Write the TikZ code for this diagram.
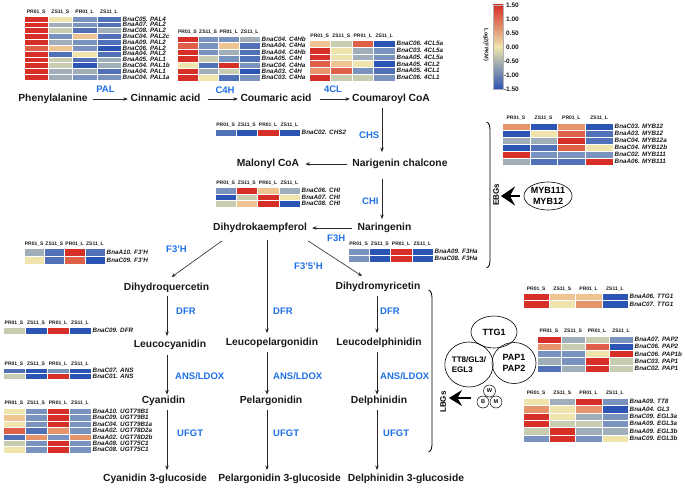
\documentclass[tikz,border=0pt]{standalone}
\usepackage{fontspec}
\setmainfont{Liberation Sans}
\usetikzlibrary{arrows.meta,shapes.geometric,calc}
\definecolor{hmR}{RGB}{214,47,39}
\definecolor{hmr}{RGB}{222,96,72}
\definecolor{hms}{RGB}{230,148,108}
\definecolor{hmo}{RGB}{238,196,146}
\definecolor{hmy}{RGB}{238,228,172}
\definecolor{hmg}{RGB}{200,204,176}
\definecolor{hmn}{RGB}{160,174,186}
\definecolor{hmb}{RGB}{122,147,190}
\definecolor{hmm}{RGB}{80,113,184}
\definecolor{hmB}{RGB}{44,84,180}
\definecolor{enzblue}{RGB}{30,112,228}
\definecolor{txt}{RGB}{25,25,25}
\newcommand\hmap[7]{%
  \foreach \hA/\hB/\hC/\hD/\hL [count=\hi from 0] in {#7}{
    \path[fill=hm\hA,draw=white,line width=0.3pt] ({#2},{#3+\hi*#5}) rectangle ++(#4,#5);
    \path[fill=hm\hB,draw=white,line width=0.3pt] ({#2+#4},{#3+\hi*#5}) rectangle ++(#4,#5);
    \path[fill=hm\hC,draw=white,line width=0.3pt] ({#2+2*#4},{#3+\hi*#5}) rectangle ++(#4,#5);
    \path[fill=hm\hD,draw=white,line width=0.3pt] ({#2+3*#4},{#3+\hi*#5}) rectangle ++(#4,#5);
    \node[hmlab] (#1-\hi) at ({#2+4*#4+1.5},{#3+(\hi+0.5)*#5}) {\hL};
  }
  \foreach \hT [count=\hj from 0] in {PR01\_S,ZS11\_S,PR01\_L,ZS11\_L}
    \node[hmhead] (#1-h\hj) at ({#2+(\hj+0.5)*#4},{#3-#6}) {\hT};
}
\begin{document}
\begin{tikzpicture}[x=1pt,y=-1pt,
  cmp/.style={font=\fontsize{10.3}{12}\selectfont\bfseries,text=txt,inner sep=0pt,text height=7.5pt,text depth=2pt},
  enz/.style={font=\fontsize{9.5}{11}\selectfont\bfseries,text=enzblue,inner sep=0pt},
  hmlab/.style={font=\fontsize{6.3}{6.5}\selectfont\bfseries\itshape,anchor=west,inner sep=0pt,text=txt},
  hmhead/.style={font=\fontsize{5}{5.5}\selectfont\bfseries,inner sep=0pt,text=txt},
  arr/.style={-{Stealth[length=4.5pt,width=3.5pt]},line width=0.6pt,draw=black!85},
  harr/.style={arr,shorten <=5pt,shorten >=2.5pt},
  varr/.style={arr,shorten <=4pt,shorten >=4pt},
  bigarr/.style={line width=1.3pt,-{Stealth[length=14pt,width=19pt,inset=5pt]}},
  tf/.style={ellipse,draw,line width=0.6pt,inner sep=0pt,align=center,font=\fontsize{9}{10.5}\selectfont\bfseries},
  bw/.style={circle,draw,line width=0.5pt,minimum size=12pt,inner sep=0pt,font=\fontsize{5.5}{6}\selectfont\bfseries},
  gl/.style={font=\fontsize{8}{9}\selectfont\bfseries,rotate=90,inner sep=0pt}
]
\useasboundingbox (0,0) rectangle (685,487);

% ---------- heatmaps ----------
\hmap{pal}{24}{16}{24.25}{5.82}{3.5}{R/y/b/m/{BnaC05. PAL4},R/n/b/m/{BnaA07. PAL2},R/g/m/n/{BnaC08. PAL2},R/b/o/m/{BnaC04. PAL2c},R/n/b/m/{BnaA09. PAL2},r/o/b/B/{BnaC06. PAL2},R/m/y/m/{BnaA04. PAL2},R/g/m/n/{BnaA05. PAL1},R/g/B/n/{BnaC04. PAL1b},R/n/n/m/{BnaA04. PAL1},R/n/b/b/{BnaC04. PAL1a}}
\hmap{c4h}{177}{36}{20.75}{6.43}{3.5}{R/b/b/n/{BnaC04. C4Hb},r/b/o/m/{BnaA04. C4Ha},R/b/n/m/{BnaA04. C4Hb},R/g/b/m/{BnaA05. C4H},y/m/R/b/{BnaC04. C4Ha},R/n/g/B/{BnaA03. C4H},R/y/m/b/{BnaC03. C4Ha}}
\hmap{fcl}{309}{40}{21.5}{6.83}{3.5}{o/g/r/B/{BnaC06. 4CL5a},R/y/n/b/{BnaC03. 4CL5a},R/y/n/b/{BnaA05. 4CL5a},r/o/y/B/{BnaA05. 4CL2},s/r/b/m/{BnaA05. 4CL1},R/g/g/b/{BnaC06. 4CL1}}
\hmap{chs}{215}{129}{21.25}{7.5}{3.5}{m/B/R/B/{BnaC02. CHS2}}
\hmap{chi}{215}{187}{21.25}{6.67}{3.5}{b/R/o/n/{BnaC06. CHI},B/g/R/y/{BnaA07. CHI},g/o/R/B/{BnaC08. CHI}}
\hmap{fth}{348}{248}{21.25}{7}{3.5}{b/B/R/B/{BnaA09. F3Ha},b/B/R/B/{BnaC08. F3Ha}}
\hmap{myb}{502}{123}{27.75}{7}{4.5}{s/B/s/B/{BnaC03. MYB12},B/y/r/m/{BnaA03. MYB12},n/n/R/m/{BnaC04. MYB12a},B/m/r/y/{BnaC04. MYB12b},R/b/b/b/{BnaC02. MYB111},n/m/m/R/{BnaA06. MYB111}}
\hmap{fph}{24}{248}{20.25}{8}{3.5}{n/m/R/m/{BnaA10. F3'H},y/m/r/B/{BnaC09. F3'H}}
\hmap{dfr}{3}{327}{22}{7}{4}{g/B/R/B/{BnaC09. DFR}}
\hmap{ans}{3}{368}{22}{5.5}{4}{m/B/b/B/{BnaC07. ANS},g/B/R/B/{BnaC01. ANS}}
\hmap{ugt}{3}{408}{22}{6.43}{4.5}{y/b/R/b/{BnaA10. UGT79B1},o/b/R/b/{BnaC09. UGT79B1},y/b/R/b/{BnaC04. UGT79B1a},r/m/s/b/{BnaA02. UGT78D2a},m/s/b/s/{BnaA02. UGT78D2b},g/b/R/b/{BnaA08. UGT75C1},y/b/R/b/{BnaC08. UGT75C1}}
\hmap{ttg}{523}{293}{26.25}{7.5}{4}{R/o/o/B/{BnaA06. TTG1},R/y/s/B/{BnaC07. TTG1}}
\hmap{pap}{537}{336}{24}{7.2}{4.5}{R/n/g/b/{BnaA07. PAP2},s/g/r/B/{BnaC06. PAP2},b/b/y/R/{BnaC06. PAP1b},n/b/R/g/{BnaC03. PAP1},m/n/R/g/{BnaC02. PAP1}}
\hmap{bhl}{523}{398}{26.25}{7.33}{4.5}{y/n/R/b/{BnaA09. TT8},s/y/s/B/{BnaA04. GL3},R/y/n/b/{BnaC09. EGL3a},R/g/g/b/{BnaA09. EGL3a},g/R/n/n/{BnaA09. EGL3b},b/R/b/y/{BnaC09. EGL3b}}

% ---------- colour bar ----------
\shade[top color=hmR,bottom color=hmy] (493,5) rectangle (503,47);
\shade[top color=hmy,bottom color=hmB] (493,47) rectangle (503,89);
\draw[black!30,line width=0.3pt] (493,5) rectangle (503,89);
\foreach \v [count=\k from 0] in {1.50,1.00,0.50,0.00,-0.50,-1.00,-1.50}
  \node[anchor=west,inner sep=0pt,font=\fontsize{6.5}{7}\selectfont\bfseries,text=txt] (cb\k) at ({506-(\k>3)*2.2},{5+\k*14}) {\v};
\node[font=\fontsize{5.5}{6}\selectfont\bfseries,rotate=-90,inner sep=0pt,text=txt] (cbl) at (486,45) {Log2(FPKM)};

% ---------- compounds ----------
\node[cmp] (phe) at (53,99) {Phenylalanine};
\node[cmp] (cin) at (165.5,99) {Cinnamic acid};
\node[cmp] (cou) at (276,99) {Coumaric acid};
\node[cmp] (coa) at (391,99) {Coumaroyl CoA};
\node[cmp] (chal) at (400,164) {Narigenin chalcone};
\node[cmp] (mal) at (268,164) {Malonyl CoA};
\node[cmp] (nar) at (384.5,228) {Naringenin};
\node[cmp] (dhk) at (260,228) {Dihydrokaempferol};
\node[cmp] (dhq) at (166.5,288) {Dihydroquercetin};
\node[cmp] (dhm) at (378,287) {Dihydromyricetin};
\node[cmp] (lcy) at (170,345) {Leucocyanidin};
\node[cmp] (lpe) at (272,343) {Leucopelargonidin};
\node[cmp] (lde) at (379,343) {Leucodelphinidin};
\node[cmp] (cya) at (163.5,401) {Cyanidin};
\node[cmp] (pel) at (271,401) {Pelargonidin};
\node[cmp] (del) at (379,401) {Delphinidin};
\node[cmp] (cyg) at (155,479) {Cyanidin 3-glucoside};
\node[cmp] (peg) at (279.5,479) {Pelargonidin 3-glucoside};
\node[cmp] (deg) at (406,479) {Delphinidin 3-glucoside};

% ---------- enzymes ----------
\node[enz] (pal) at (105.5,89.5) {PAL};
\node[enz] (c4h) at (225,90) {C4H};
\node[enz] (fcl) at (333,89.5) {4CL};
\node[enz,anchor=west] (chs) at (359,135) {CHS};
\node[enz,anchor=west] (chi) at (362,201) {CHI};
\node[enz,anchor=west] (f3h) at (327,238) {F3H};
\node[enz,anchor=west] (f35h) at (294,266) {F3'5'H};
\node[enz,anchor=west] (f3ph) at (166,249) {F3'H};
\node[enz,anchor=west] (dfr1) at (176,311) {DFR};
\node[enz,anchor=west] (dfr2) at (273,311) {DFR};
\node[enz,anchor=west] (dfr3) at (380,311) {DFR};
\node[enz,anchor=west] (ans1) at (175,376) {ANS/LDOX};
\node[enz,anchor=west] (ans2) at (273,376) {ANS/LDOX};
\node[enz,anchor=west] (ans3) at (380,376) {ANS/LDOX};
\node[enz,anchor=west] (ufgt1) at (177,433) {UFGT};
\node[enz,anchor=west] (ufgt2) at (273,433) {UFGT};
\node[enz,anchor=west] (ufgt3) at (383,433) {UFGT};

% ---------- pathway arrows ----------
\coordinate (xA) at (167,0);
\coordinate (xB) at (267,0);
\coordinate (xC) at (377,0);
\coordinate (xD) at (382,0);
\draw[harr] (phe.east) -- (cin.west);
\draw[harr,shorten <=7pt] (cin.east) -- (cou.west);
\draw[harr,shorten <=8pt,shorten >=2pt] (cou.east) -- (coa.west);
\draw[varr,shorten >=7pt] (coa.south -| xD) -- (chal.north -| xD);
\draw[harr,shorten >=6pt] (chal.west) -- (mal.east);
\draw[varr,shorten <=10pt] (chal.south -| xD) -- (nar.north -| xD);
\draw[harr,shorten >=5pt] (nar.west) -- (dhk.east);
\draw[arr] ([shift={(9,8)}]dhk.south west) -- ([shift={(5,-6)}]dhq.north);
\draw[arr] ([shift={(1,8)}]dhk.south east) -- ([shift={(-16,-6)}]dhm.north);
\draw[varr,shorten <=7pt,shorten >=5pt] (dhk.south -| xB) -- (lpe.north -| xB);
\draw[varr,shorten <=3pt] (dhq.south -| xA) -- (lcy.north -| xA);
\draw[varr,shorten <=5pt,shorten >=1.5pt] (lcy.south -| xA) -- (cya.north -| xA);
\draw[varr] (cya.south -| xA) -- (cyg.north -| xA);
\draw[varr,shorten >=1.5pt] (lpe.south -| xB) -- (pel.north -| xB);
\draw[varr] (pel.south -| xB) -- (peg.north -| xB);
\draw[varr,shorten >=5pt] (dhm.south -| xC) -- (lde.north -| xC);
\draw[varr,shorten >=1.5pt] (lde.south -| xC) -- (del.north -| xC);
\draw[varr] (del.south -| xC) -- (deg.north -| xC);

% ---------- EBGs ----------
\draw[line width=0.8pt] (486.5,122) .. controls (489.5,123) and (490,126) .. (490,132) -- (490,258) .. controls (490,264) and (489.5,267) .. (486.5,268);
\node[gl] (ebg) at (496,195) {EBGs};
\node[tf,minimum width=45pt,minimum height=28pt] (mybtf) at (548,196) {MYB111\\MYB12};
\coordinate (ebgtip) at (501,196);
\draw[bigarr,shorten <=3.5pt] (mybtf.west) -- (ebgtip);

% ---------- LBGs ----------
\draw[line width=0.8pt] (428.5,290) .. controls (431.5,291) and (432,294) .. (432,300) -- (432,442) .. controls (432,448) and (431.5,451) .. (428.5,452);
\node[gl] (lbg) at (443,402) {LBGs};
\node[tf,minimum width=46pt,minimum height=32pt] (ttg) at (494,332) {TTG1};
\node[tf,minimum width=46pt,minimum height=45pt,align=left,font=\fontsize{8}{10}\selectfont\bfseries] (tt8) at (469,364.5) {TT8/GL3/\\EGL3};
\node[tf,minimum width=44pt,minimum height=41pt] (papn) at (514,363) {PAP1\\PAP2};
\node[bw] (wn) at (489.5,391) {W};
\node[bw] (bn) at (483,402) {B};
\node[bw] (mn) at (496,402) {M};
\coordinate (lbgtail) at (471,398);
\coordinate (lbgtip) at (449,398);
\draw[bigarr,-{Stealth[length=13pt,width=16pt,inset=4.5pt]}] (lbgtail) -- (lbgtip);
\end{tikzpicture}
\end{document}
